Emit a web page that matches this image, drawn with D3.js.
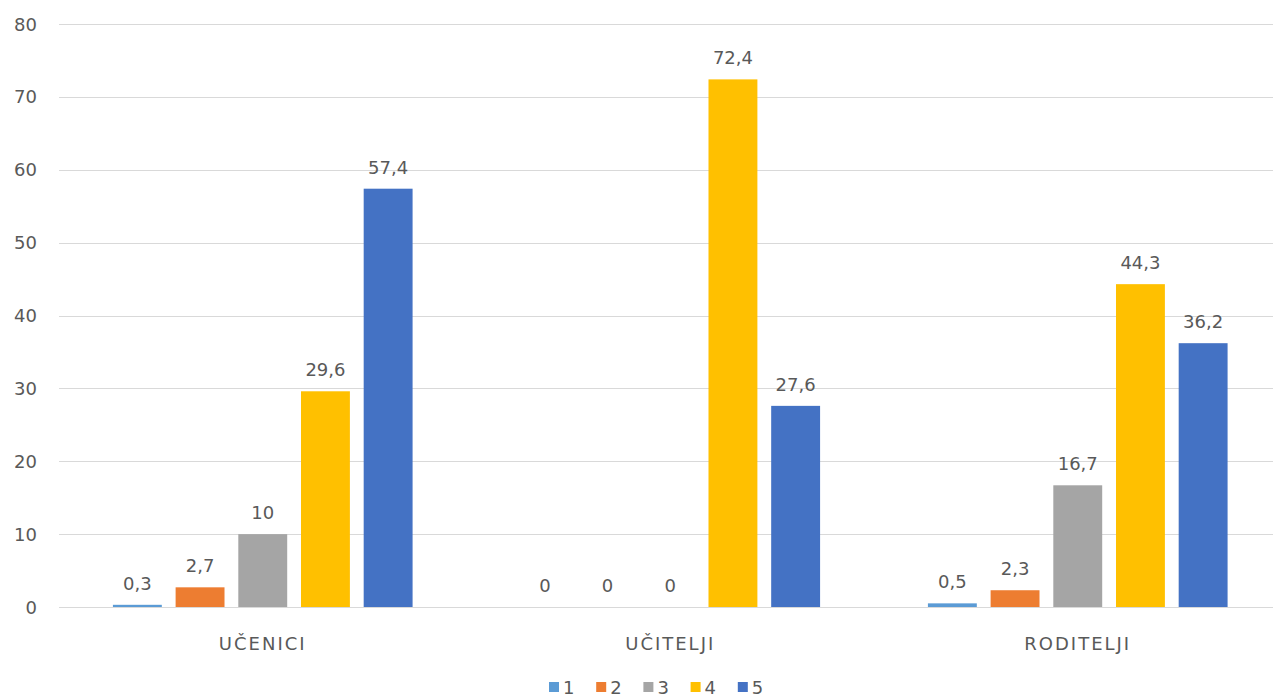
<!DOCTYPE html>
<html><head><meta charset="utf-8">
<script src="https://cdn.jsdelivr.net/npm/d3@7"></script>
<style>
body{margin:0;background:#fff;}
text{font-family:"DejaVu Sans",sans-serif;fill:#595959;}
</style></head>
<body>
<svg id="chart" width="1273" height="696"></svg>
<script>
const categories = ["UČENICI", "UČITELJI", "RODITELJI"];
const seriesNames = ["1", "2", "3", "4", "5"];
const s1 = [0.3, 0, 0.5];
const s2 = [2.7, 0, 2.3];
const s3 = [10, 0, 16.7];
const s4 = [29.6, 72.4, 44.3];
const s5 = [57.4, 27.6, 36.2];
const yTicks = [0, 10, 20, 30, 40, 50, 60, 70, 80];
const colors = ["#5B9BD5", "#ED7D31", "#A5A5A5", "#FFC000", "#4472C4"];

(function(){
const series = [s1, s2, s3, s4, s5];
const data = categories.map((c, i) => ({cat: c, vals: series.map((s, j) => ({key: seriesNames[j], v: s[i], j}))}));

const svg = d3.select("#chart");
const W = 1273;
const plotLeft = 59, plotTop = 24, plotBottom = 607;

const y = d3.scaleLinear().domain([0, 80]).range([plotBottom, plotTop]);
const x0 = d3.scaleBand().domain(categories).range([plotLeft, plotLeft + 3 * 407.5]).paddingInner(0).paddingOuter(0);
const x1 = d3.scaleBand().domain(seriesNames).range([0, x0.bandwidth()]).paddingInner(0.22).paddingOuter(0.86);

svg.append("g").selectAll("line").data(yTicks).join("line")
  .attr("x1", plotLeft).attr("x2", W)
  .attr("y1", d => Math.round(y(d)) + 0.5).attr("y2", d => Math.round(y(d)) + 0.5)
  .attr("stroke", "#d9d9d9").attr("stroke-width", 1);

svg.append("g").selectAll("text").data(yTicks).join("text")
  .attr("x", 37).attr("y", d => y(d) + 6.5)
  .attr("text-anchor", "end").attr("font-size", 18)
  .text(d => d);

const groups = svg.append("g").selectAll("g").data(data).join("g")
  .attr("transform", d => `translate(${x0(d.cat)},0)`);

groups.selectAll("rect").data(d => d.vals).join("rect")
  .attr("x", d => x1(d.key)).attr("width", x1.bandwidth())
  .attr("y", d => y(d.v)).attr("height", d => y(0) - y(d.v))
  .attr("fill", d => colors[d.j]);

groups.selectAll("text.val").data(d => d.vals).join("text").attr("class", "val")
  .attr("x", d => x1(d.key) + x1.bandwidth() / 2)
  .attr("y", d => y(d.v) - 15)
  .attr("text-anchor", "middle").attr("font-size", 18)
  .text(d => String(d.v).replace(".", ","));

svg.append("g").selectAll("text").data(categories).join("text")
  .attr("x", d => x0(d) + x0.bandwidth() / 2).attr("y", 650)
  .attr("text-anchor", "middle").attr("font-size", 18).attr("letter-spacing", 2)
  .text(d => d);

const lg = svg.append("g").attr("transform", "translate(549,682)");
const item = lg.selectAll("g").data(seriesNames).join("g")
  .attr("transform", (d, i) => `translate(${i * 47.2},0)`);
item.append("rect").attr("width", 10).attr("height", 10).attr("fill", (d, i) => colors[i]);
item.append("text").attr("x", 14).attr("y", 11.5).attr("font-size", 18).text(d => d);
})();
</script>
</body></html>
